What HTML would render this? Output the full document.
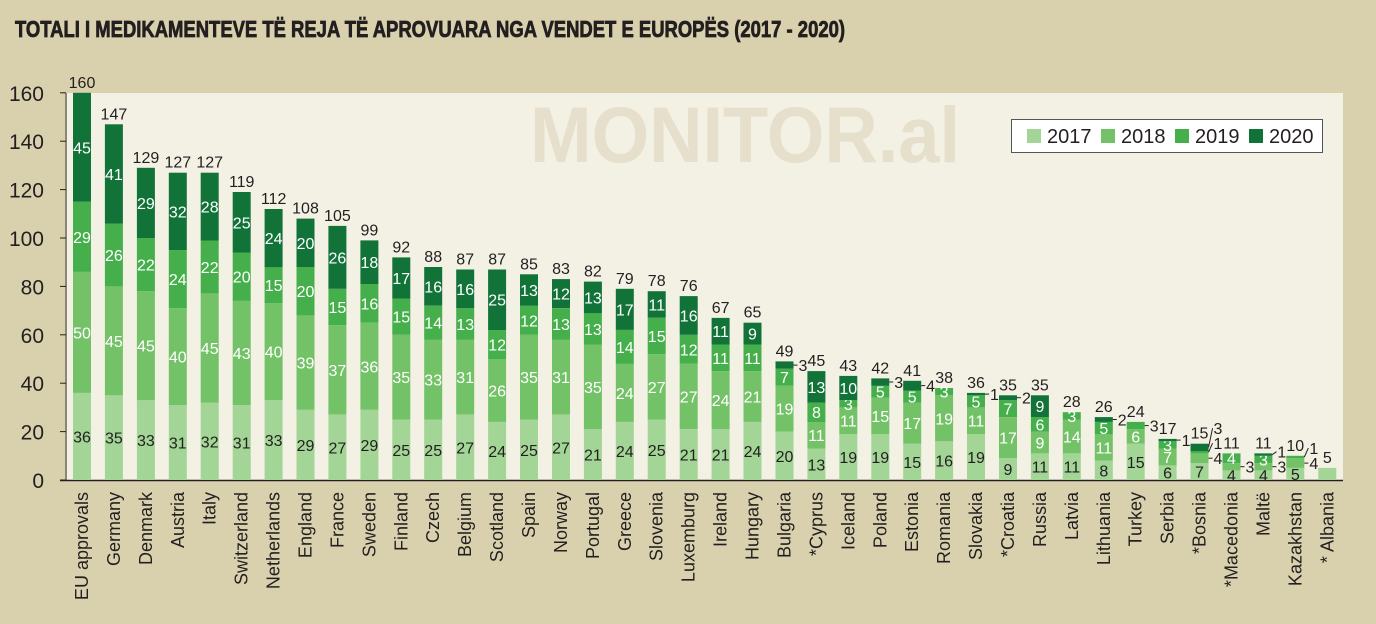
<!DOCTYPE html>
<html><head><meta charset="utf-8"><style>
html,body{margin:0;padding:0;background:#d9d1ad;}
svg{display:block;}
text{font-family:"Liberation Sans Narrow","Liberation Sans",sans-serif;}
</style></head><body>
<svg id="s" width="1376" height="624" xmlns="http://www.w3.org/2000/svg">
<rect width="1376" height="624" fill="#d9d1ad"/>
<text x="15" y="37" font-size="23" font-weight="bold" fill="#231f20" stroke="#231f20" stroke-width="0.8" textLength="830" lengthAdjust="spacingAndGlyphs" style="font-family:'Liberation Sans',sans-serif">TOTALI I MEDIKAMENTEVE TË REJA TË APROVUARA NGA VENDET E EUROPËS (2017 - 2020)</text>
<rect x="66" y="93" width="1277" height="387" fill="#f3f0e4"/>
<text x="530" y="162" font-size="79" font-weight="bold" fill="#e5dfcb" textLength="430" lengthAdjust="spacingAndGlyphs" style="font-family:'Liberation Sans',sans-serif">MONITOR.al</text>
<line x1="66" y1="93" x2="66" y2="480" stroke="#8a8676" stroke-width="2"/>
<line x1="60" y1="480.5" x2="1343" y2="480.5" stroke="#231f20" stroke-width="1.5"/>
<g id="g"></g>
<rect x="1011.5" y="119.5" width="311" height="33" fill="#fff" stroke="#555" stroke-width="1"/>
<rect x="1027" y="129" width="14" height="14" fill="#a3d597"/><text x="1047" y="143" font-size="20" fill="#231f20">2017</text>
<rect x="1101" y="129" width="14" height="14" fill="#74c267"/><text x="1121" y="143" font-size="20" fill="#231f20">2018</text>
<rect x="1175" y="129" width="14" height="14" fill="#45b04b"/><text x="1195" y="143" font-size="20" fill="#231f20">2019</text>
<rect x="1249" y="129" width="14" height="14" fill="#127339"/><text x="1269" y="143" font-size="20" fill="#231f20">2020</text>
</svg>
<script>
var D=[["EU approvals",36,50,29,45],["Germany",35,45,26,41],["Denmark",33,45,22,29],["Austria",31,40,24,32],["Italy",32,45,22,28],["Switzerland",31,43,20,25],["Netherlands",33,40,15,24],["England",29,39,20,20],["France",27,37,15,26],["Sweden",29,36,16,18],["Finland",25,35,15,17],["Czech",25,33,14,16],["Belgium",27,31,13,16],["Scotland",24,26,12,25],["Spain",25,35,12,13],["Norway",27,31,13,12],["Portugal",21,35,13,13],["Greece",24,24,14,17],["Slovenia",25,27,15,11],["Luxemburg",21,27,12,16],["Ireland",21,24,11,11],["Hungary",24,21,11,9],["Bulgaria",20,19,7,3],["*Cyprus",13,11,8,13],["Iceland",19,11,3,10],["Poland",19,15,5,3],["Estonia",15,17,5,4],["Romania",16,19,3,0],["Slovakia",19,11,5,1],["*Croatia",9,17,7,2],["Russia",11,9,6,9],["Latvia",11,14,3,0],["Lithuania",8,11,5,2],["Turkey",15,6,3,0],["Serbia",6,7,3,1],["*Bosnia",7,4,1,3],["*Macedonia",4,3,4,0],["Maltë",4,3,3,1],["Kazakhstan",5,4,1,0],["* Albania",5,0,0,0]];
var out={"Bulgaria3":1,"Turkey2":1,"*Bosnia3":1,"*Bosnia1":1,"*Macedonia1":1,"Maltë1":1,"Kazakhstan1":1,"Poland3":1,"Estonia3":1};
var C=["#a3d597","#74c267","#45b04b","#127339"];
var s=2.42,y0=480,h="";
for(var i=0;i<D.length;i++){
 var d=D[i],cx=82+i*31.93,x=cx-9,cum=0,tot=d[1]+d[2]+d[3]+d[4],prev=1e9;
 for(var k=0;k<4;k++){var v=d[k+1];if(!v)continue;
  var yt=y0-(cum+v)*s,hh=v*s;
  h+='<rect x="'+x.toFixed(1)+'" y="'+yt.toFixed(1)+'" width="18" height="'+hh.toFixed(1)+'" fill="'+C[k]+'"/>';
  var ym=yt+hh/2;
  if(v<=2||out[d[0]+k]){
   var ly=ym+6; if(prev-ly<15) ly=prev-15; prev=ly;
   h+='<line x1="'+(x+18)+'" y1="'+ym.toFixed(1)+'" x2="'+(x+22)+'" y2="'+(ly-6).toFixed(1)+'" stroke="#231f20" stroke-width="1"/>';
   h+='<text x="'+(x+23)+'" y="'+ly.toFixed(1)+'" font-size="16" fill="#231f20">'+v+'</text>';
  } else if(!(d[0]=="* Albania")){
   h+='<text x="'+cx.toFixed(1)+'" y="'+(ym+6).toFixed(1)+'" font-size="16" text-anchor="middle" fill="'+(k==0?"#231f20":"#fff")+'">'+v+'</text>';
  }
  cum+=v;}
 h+='<text x="'+cx.toFixed(1)+'" y="'+(y0-tot*s-5).toFixed(1)+'" font-size="16" text-anchor="middle" fill="#231f20">'+tot+'</text>';
 h+='<text transform="translate('+(cx+6).toFixed(1)+',492) rotate(-90)" font-size="18" text-anchor="end" fill="#231f20">'+d[0]+'</text>';
}
for(var t=0;t<=160;t+=20){var yy=y0-t*s;
 h+='<line x1="60" y1="'+yy.toFixed(1)+'" x2="66" y2="'+yy.toFixed(1)+'" stroke="#231f20"/>';
 h+='<text x="44" y="'+(yy+8).toFixed(1)+'" font-size="21" text-anchor="end" fill="#231f20">'+t+'</text>';}
document.getElementById("g").innerHTML=h;
</script>
</body></html>
